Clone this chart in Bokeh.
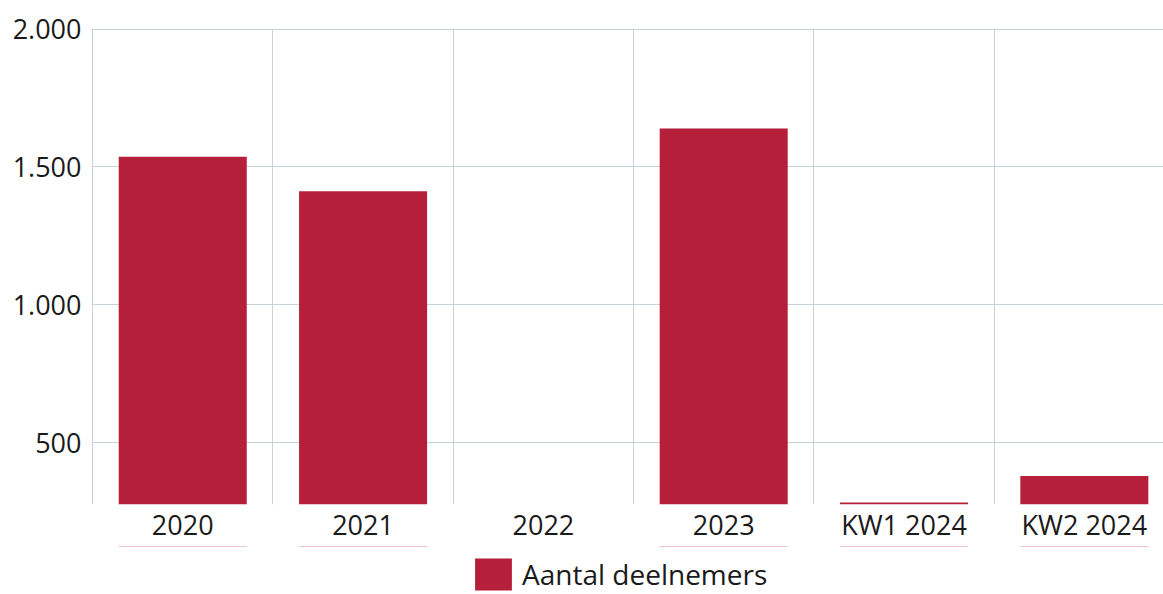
from bokeh.plotting import figure
from bokeh.layouts import column
from bokeh.models import (Range1d, FixedTicker, CustomJSTickFormatter, Legend, LegendItem,
                          ColumnDataSource)
from bokeh.embed import file_html
from bokeh.resources import INLINE

categories = ["2020", "2021", "2022", "2023", "KW1 2024", "KW2 2024"]
deelnemers = [1537, 1412, float("nan"), 1639, 283, 379]
series_name = "Aantal deelnemers"
y_ticks = [500, 1000, 1500, 2000]

FONT = "Open Sans"
BAR = "#B61F3A"
GRID = "#C9D2DC"
TXT = "#1a1a1a"

positions = [i + 0.5 for i in range(len(categories))]
src = ColumnDataSource(dict(x=positions, top=deelnemers, cat=categories))

p = figure(width=1163, height=546, output_backend="svg", toolbar_location=None,
           x_range=Range1d(-0.006, 5.939), y_range=Range1d(276, 2002),
           min_border_left=91, min_border_right=0, min_border_top=28, min_border_bottom=42)
p.outline_line_color = None
p.background_fill_color = "white"
p.border_fill_color = "white"

r = p.vbar(x="x", top="top", bottom=0, width=0.71, source=src, fill_color=BAR, line_color=None)

# axes
p.xaxis.ticker = FixedTicker(ticks=positions)
p.xaxis.formatter = CustomJSTickFormatter(args=dict(labels=categories),
                                          code="return labels[Math.floor(tick)];")
p.yaxis.ticker = FixedTicker(ticks=y_ticks)
p.yaxis.formatter = CustomJSTickFormatter(
    code="return Math.round(tick).toString().replace(/\\B(?=(\\d{3})+(?!\\d))/g, '.');")
for ax in (p.xaxis[0], p.yaxis[0]):
    ax.axis_line_color = None
    ax.major_tick_line_color = None
    ax.minor_tick_line_color = None
    ax.major_tick_out = 0
    ax.major_tick_in = 0
    ax.major_label_text_font = FONT
    ax.major_label_text_font_size = "27px"
    ax.major_label_text_color = TXT
p.xaxis.major_label_standoff = 1
p.yaxis.major_label_standoff = 10

p.xgrid.ticker = FixedTicker(ticks=[0, 1, 2, 3, 4, 5])
p.xgrid.grid_line_color = GRID
p.ygrid.grid_line_color = GRID

# legend strip below the chart (same series, drawn off-range so only the legend shows)
lg = figure(width=1163, height=48, output_backend="svg", toolbar_location=None,
            x_range=Range1d(-0.006, 5.939), y_range=Range1d(-2, -1),
            x_axis_location=None, y_axis_location=None,
            min_border_left=0, min_border_right=0, min_border_top=0, min_border_bottom=0)
lg.outline_line_color = None
lg.xgrid.visible = False
lg.ygrid.visible = False
lr = lg.vbar(x="x", top="top", bottom=0, width=0.71, source=src, fill_color=BAR, line_color=None)

legend = Legend(items=[LegendItem(label=series_name, renderers=[lr])],
                location=(379, 0), orientation="horizontal",
                glyph_width=46, glyph_height=40, label_standoff=6,
                label_text_font=FONT, label_text_font_size="28px", label_text_color=TXT,
                padding=0, margin=0, border_line_color=None, background_fill_alpha=0)
lg.add_layout(legend, "center")

open("out.html", "w").write(file_html(column(p, lg, spacing=0), INLINE))
